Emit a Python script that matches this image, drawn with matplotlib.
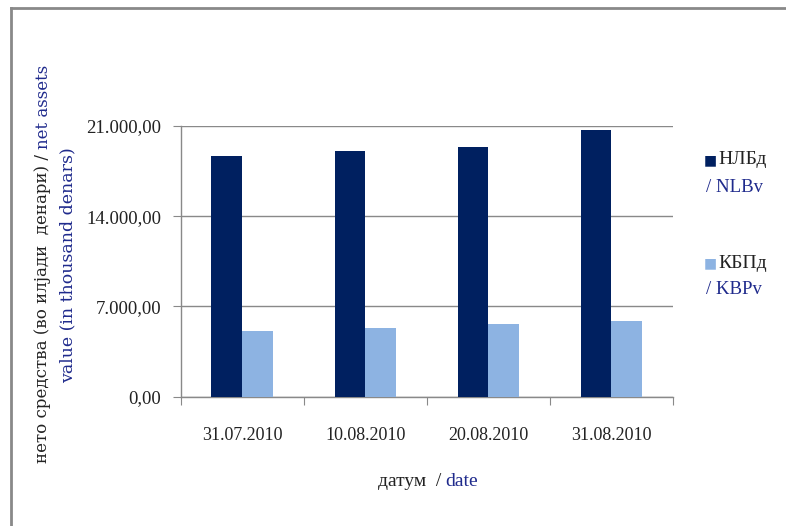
import matplotlib
matplotlib.use("Agg")
import matplotlib.pyplot as plt
import numpy as np
from matplotlib.lines import Line2D

dates = ["31.07.2010", "10.08.2010", "20.08.2010", "31.08.2010"]
nlb_values = [18670, 19060, 19370, 20690]
kbp_values = [5100, 5330, 5640, 5870]
series_names = [("НЛБд", "/ NLBv"), ("КБПд", "/ KBPv")]
yticks = [0, 7000, 14000, 21000]
ytick_labels = ["0,00", "7.000,00", "14.000,00", "21.000,00"]

dark = "#002060"
light = "#8DB3E2"
blue_txt = "#1F2A8C"
grey = "#898989"

plt.rcParams["font.family"] = ["Liberation Serif", "DejaVu Serif"]

fig = plt.figure(figsize=(7.86, 5.26), dpi=100)
ax = fig.add_axes([180.7 / 786, 1 - 396.7 / 526, (673 - 180.7) / 786, (396.7 - 126) / 526])

x = np.arange(len(dates))
w = 0.25
ax.bar(x - w / 2, nlb_values, w, color=dark, zorder=3)
ax.bar(x + w / 2, kbp_values, w, color=light, zorder=3)

ax.set_xlim(-0.5, len(dates) - 0.5)
ax.set_ylim(0, 21000)
ax.set_yticks(yticks)
ax.set_yticklabels(ytick_labels, fontsize=13.5, color="#222222")
ax.yaxis.grid(True, color=grey, linewidth=1.0, zorder=0)
ax.set_xticks(np.arange(-0.5, len(dates), 1.0))
ax.set_xticklabels([])
ax.set_xticks(x, minor=True)
ax.set_xticklabels(dates, minor=True, fontsize=13, color="#222222")
ax.tick_params(axis="x", which="minor", length=0, pad=22)
ax.tick_params(axis="x", which="major", length=6, color=grey, direction="out")
ax.tick_params(axis="y", length=6, color=grey, direction="out", pad=8)
for s in ["top", "right"]:
    ax.spines[s].set_visible(False)
for s in ["left", "bottom"]:
    ax.spines[s].set_color(grey)
    ax.spines[s].set_linewidth(1.0)

# frame lines (top and left)
fig.add_artist(Line2D([10.5 / 786, 785 / 786], [1 - 7.5 / 526, 1 - 7.5 / 526], color=grey, lw=2))
fig.add_artist(Line2D([10.5 / 786, 10.5 / 786], [0, 1 - 7.5 / 526], color=grey, lw=2))

# legend
leg_y = [160, 263]
for (n1, n2), col, yy in zip(series_names, [dark, light], leg_y):
    fig.text(704 / 786, 1 - yy / 526, "■", color=col, fontsize=10, va="center", ha="left",
             family=["DejaVu Sans"])
    fig.text(718 / 786, 1 - yy / 526, n1, color="#222222", fontsize=14, va="center", ha="left")
    fig.text(706 / 786, 1 - (yy + 27) / 526, n2, color=blue_txt, fontsize=13.5, va="center", ha="left")

# x axis label
fig.canvas.draw()
r = fig.canvas.get_renderer()
t1 = fig.text(0, 1 - 482 / 526, "датум  / ", color="#222222", fontsize=14, va="center", ha="left")
t2 = fig.text(0, 1 - 482 / 526, "date", color=blue_txt, fontsize=14, va="center", ha="left")
w1 = t1.get_window_extent(r).width
w2 = t2.get_window_extent(r).width
x0 = 428 - (w1 + w2) / 2
t1.set_x(x0 / 786)
t2.set_x((x0 + w1) / 786)

# y axis label line 1 (rotated)
yl_font = ["DejaVu Serif"]
a1 = fig.text(43 / 786, 0, "нето средства (во илјади  денари) / ", rotation=90, color="#222222",
              fontsize=12, va="bottom", ha="center", family=yl_font)
a2 = fig.text(43 / 786, 0, "net assets", rotation=90, color=blue_txt, fontsize=12,
              va="bottom", ha="center", family=yl_font)
h1 = a1.get_window_extent(r).height
h2 = a2.get_window_extent(r).height
y0 = 264 + (h1 + h2) / 2  # bottom in pixels from top
a1.set_y(1 - y0 / 526)
a2.set_y(1 - (y0 - h1) / 526)
fig.text(68 / 786, 1 - 265 / 526, "value (in thousand denars)", rotation=90, color=blue_txt,
         fontsize=12.5, va="center", ha="center", family=yl_font)

fig.savefig("out.png", dpi=100, facecolor="white")
